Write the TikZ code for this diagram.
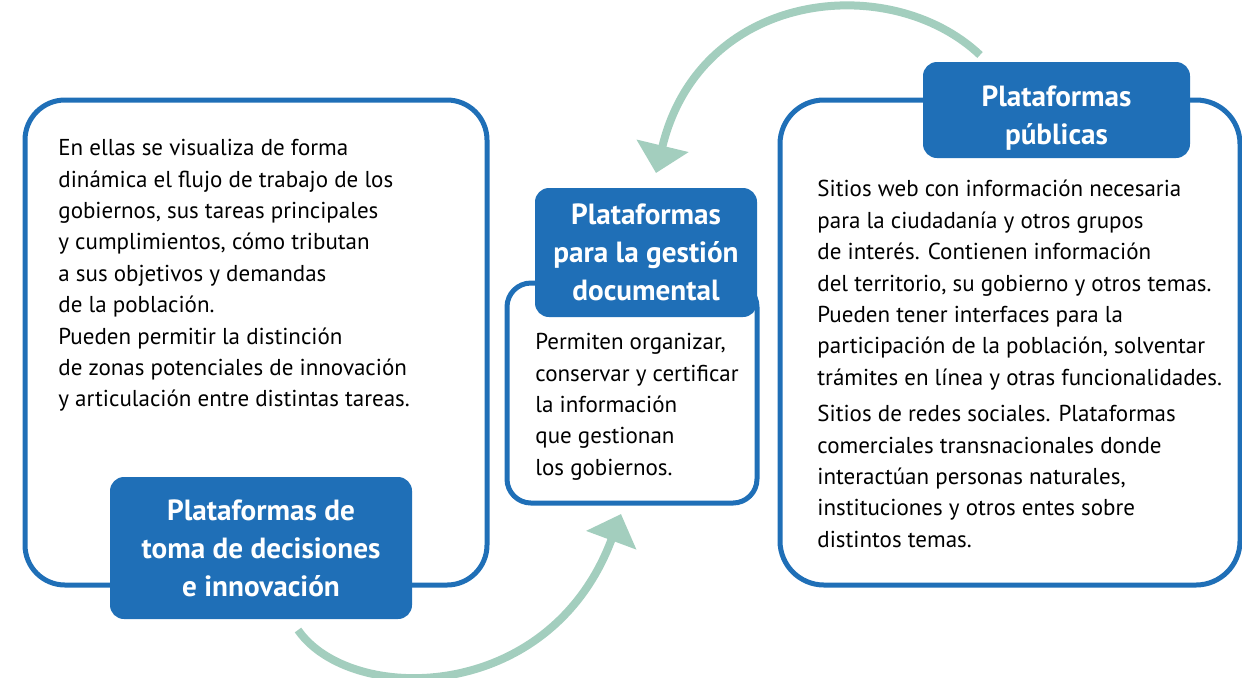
\documentclass[tikz,border=0pt]{standalone}
\usepackage{fontspec}
\setmainfont{PT Sans}
\usetikzlibrary{positioning,arrows.meta}
\definecolor{azul}{RGB}{31,111,183}
\definecolor{verde}{RGB}{163,206,190}

\begin{document}
\begin{tikzpicture}[x=0.5pt,y=-0.5pt,
			panel/.style={draw=azul,line width=2.5pt,fill=white,rounded corners=20pt},
			etiqueta/.style={fill=azul,text=white,rounded corners=7pt,align=center,
			font=\fontsize{14.6}{19}\selectfont\bfseries},
			cuerpo/.style={anchor=north west,inner sep=0pt,align=left,
			font=\fontsize{11.5}{15.7}\selectfont},
			flecha/.style={draw=verde,line width=4pt,-{Triangle[length=14pt,width=26pt]}}
			]
		\useasboundingbox (0,0) rectangle (1242,677);
		% flechas de ciclo
		\coordinate (ini1) at (980,55);
		\coordinate (fin1) at (656,173);
		\coordinate (ini2) at (298,630);
		\coordinate (fin2) at (621,514);
		\draw[flecha] (ini1) .. controls (890,-30) and (700,-10) .. (fin1);
		\draw[flecha] (ini2) .. controls (350,705) and (550,705) .. (fin2);
		% cajas
		\node[panel,minimum width=231pt,minimum height=242.5pt] (cajaizq) at (256,342.5) {};
		\node[panel,rounded corners=12pt,minimum width=125pt,minimum height=110pt] (cajamed) at (632,393) {};
		\node[panel,rounded corners=22pt,minimum width=230pt,minimum height=242.5pt] (cajader) at (1010,342.5) {};
		% etiquetas
		\node[etiqueta,minimum width=151pt,minimum height=71pt] (etqizq) at (261,548)
			{Plataformas de\\toma de decisiones\\e innovación};
		\node[etiqueta,minimum width=111pt,minimum height=64.5pt] (etqmed) at (646,252.5)
			{Plataformas\\para la gestión\\documental};
		\node[etiqueta,minimum width=133.5pt,minimum height=48pt] (etqder) at (1056.5,110)
			{\rule{0pt}{18pt}Plataformas\\públicas};
		% textos
		\node[cuerpo] (txtizq) at (58,139) {En ellas se visualiza de forma\\
			dinámica el flujo de trabajo de los\\
			gobiernos, sus tareas principales\\
			y cumplimientos, cómo tributan\\
			a sus objetivos y demandas\\
			de la población.\\
			Pueden permitir la distinción\\
			de zonas potenciales de innovación\\
			y articulación entre distintas tareas.};
		\node[cuerpo] (txtmed) at (535,333) {Permiten organizar,\\
			conservar y certificar\\
			la información\\
			que gestionan\\
			los gobiernos.};
		\node[cuerpo] (txtder) at (817,180) {Sitios web con información necesaria\\
			para la ciudadanía y otros grupos\\
			de interés. Contienen información\\
			del territorio, su gobierno y otros temas.\\
			Pueden tener interfaces para la\\
			participación de la población, solventar\\
			trámites en línea y otras funcionalidades.\\[2.5pt]
			Sitios de redes sociales. Plataformas\\
			comerciales transnacionales donde\\
			interactúan personas naturales,\\
			instituciones y otros entes sobre\\
			distintos temas.};
	\end{tikzpicture}
\end{document}
